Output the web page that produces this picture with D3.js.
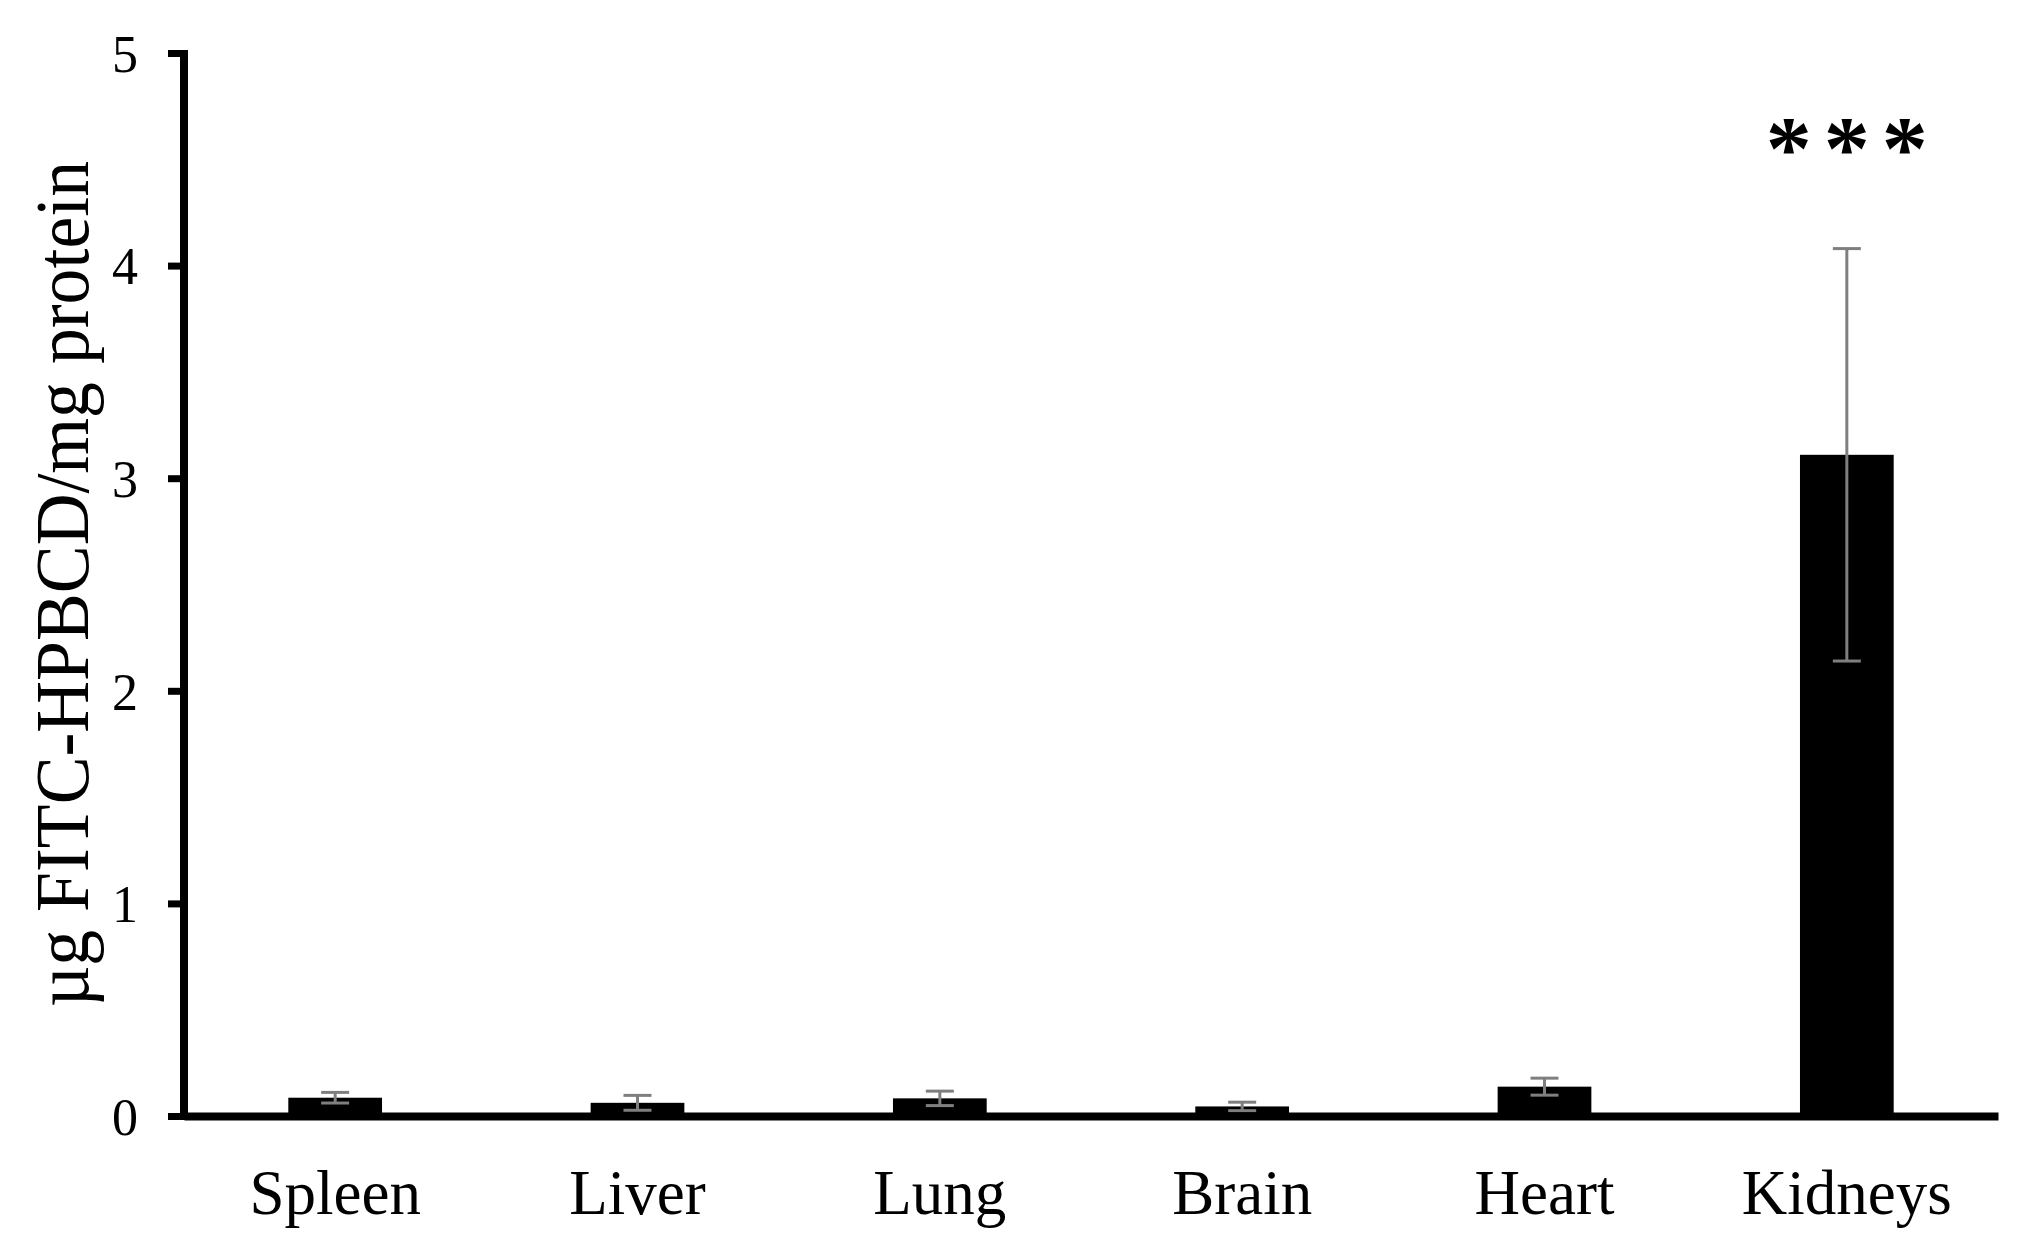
<!DOCTYPE html>
<html>
<head>
<meta charset="utf-8">
<script src="https://cdn.jsdelivr.net/npm/d3@7"></script>
<style>
  html, body { margin: 0; padding: 0; background: #fff; }
  svg { display: block; }
  text { font-family: "Liberation Serif", "Times New Roman", serif; fill: #000; }
</style>
</head>
<body>
<svg id="chart" width="2024" height="1253"></svg>
<script>
const categories = ["Spleen", "Liver", "Lung", "Brain", "Heart", "Kidneys"];
const means      = [0.086, 0.062, 0.083, 0.045, 0.138, 3.11];
const errors     = [0.025, 0.035, 0.034, 0.020, 0.040, 0.97];
const yTicks     = [0, 1, 2, 3, 4, 5];
const yLabel     = "µg FITC-HPBCD/mg protein";
const significance = ["", "", "", "", "", "***"];

const svg = d3.select("#chart");
const mLeft = 184, mRight = 1998, mTop = 53, mBottom = 1116;

const x = d3.scaleBand().domain(categories).range([mLeft, mRight])
  .paddingInner(0.69).paddingOuter(0.345);
const y = d3.scaleLinear().domain([0, 5]).range([mBottom, mTop]);

// bars
svg.append("g").selectAll("rect").data(categories).join("rect")
  .attr("x", d => x(d))
  .attr("width", x.bandwidth())
  .attr("y", (d, i) => y(means[i]))
  .attr("height", (d, i) => y(0) - y(means[i]))
  .attr("fill", "#000");

// error bars
const eg = svg.append("g").attr("stroke", "#7f7f7f").attr("stroke-width", 3);
const capW = 28;
categories.forEach((c, i) => {
  const cx = x(c) + x.bandwidth() / 2;
  const y1 = y(means[i] + errors[i]), y2 = y(means[i] - errors[i]);
  eg.append("line").attr("x1", cx).attr("x2", cx).attr("y1", y1).attr("y2", y2);
  eg.append("line").attr("x1", cx - capW/2).attr("x2", cx + capW/2).attr("y1", y1).attr("y2", y1);
  eg.append("line").attr("x1", cx - capW/2).attr("x2", cx + capW/2).attr("y1", y2).attr("y2", y2);
});

// x axis
const xAxis = svg.append("g").attr("transform", `translate(0,${mBottom})`)
  .call(d3.axisBottom(x).tickSize(0).tickSizeOuter(0).tickPadding(53));
xAxis.select(".domain").attr("stroke", "#000").attr("stroke-width", 8);
xAxis.selectAll("text").attr("font-size", 63).attr("font-family", "Liberation Serif");

// y axis
const yAxis = svg.append("g").attr("transform", `translate(${mLeft},0)`)
  .call(d3.axisLeft(y).tickValues(yTicks).tickFormat(d3.format("d")).tickSize(16).tickSizeOuter(0).tickPadding(30));
yAxis.select(".domain").attr("stroke", "#000").attr("stroke-width", 8)
  .attr("d", `M0,${mTop - 3}V${mBottom + 4}`);
yAxis.selectAll(".tick line").attr("stroke", "#000").attr("stroke-width", 7);
yAxis.selectAll("text").attr("font-size", 52).attr("font-family", "Liberation Serif").attr("dy", "0.35em");

// y label
svg.append("text")
  .attr("transform", `translate(88,${(161 + 1007) / 2}) rotate(-90)`)
  .attr("text-anchor", "middle")
  .attr("font-size", 76)
  .attr("textLength", 846)
  .attr("lengthAdjust", "spacingAndGlyphs")
  .text(yLabel);

// significance stars
categories.forEach((c, i) => {
  if (!significance[i]) return;
  svg.append("text")
    .attr("x", x(c) + x.bandwidth() / 2 + 6)
    .attr("y", y(means[i] + errors[i]) - 70)
    .attr("text-anchor", "middle")
    .attr("font-size", 92)
    .attr("font-weight", "bold")
    .attr("font-family", "Liberation Sans")
    .attr("letter-spacing", 12)
    .text(significance[i]);
});
</script>
</body>
</html>
